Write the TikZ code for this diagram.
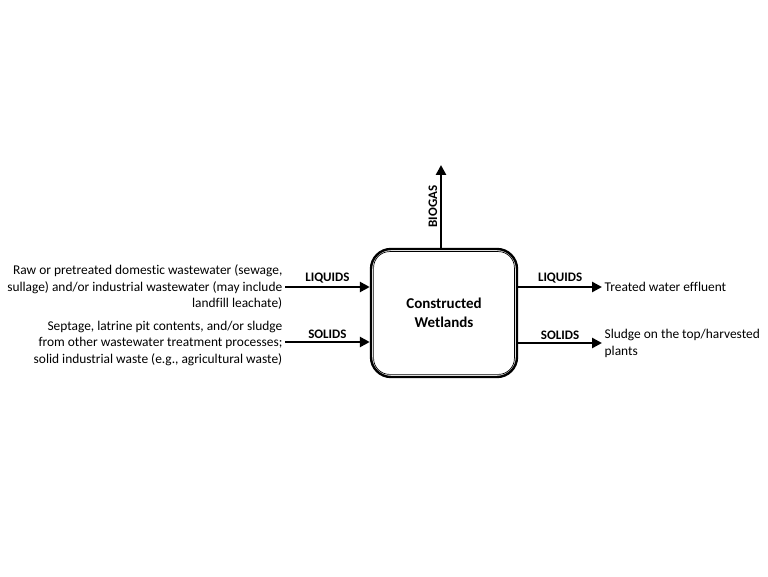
\documentclass[tikz,border=0pt]{standalone}
\usepackage{fontspec}
\setmainfont{Carlito}[Ligatures=CommonOff]
\usetikzlibrary{arrows.meta,positioning}
\tikzset{
  flow/.style={line width=2.6pt, -{Triangle[length=10pt,width=10pt]}},
  flowlabel/.style={font=\bfseries\fontsize{13}{14}\selectfont, inner sep=2.5pt},
  stream/.style={font=\fontsize{13.4}{16.5}\selectfont, inner sep=2.5pt},
}
\begin{document}
\begin{tikzpicture}[x=1pt, y=1pt]
\useasboundingbox (0,0) rectangle (768,576);
% Process box
\node[draw, line width=2.4pt, rounded corners=20pt,
  minimum width=146pt, minimum height=128pt, align=center,
  font=\bfseries\fontsize{15}{19}\selectfont] (cw) at (444,263) {Constructed\\Wetlands};
\draw[line width=0.7pt, rounded corners=16pt]
  ([shift={(3.8,3.8)}]cw.south west) rectangle ([shift={(-3.8,-3.8)}]cw.north east);
% Inputs
\node[stream, anchor=east, align=right] (inliq) at (285,288.5)
  {Raw or pretreated domestic wastewater (sewage,\\sullage) and/or industrial wastewater (may include\\landfill leachate)};
\node[stream, anchor=east, align=right] (insol) at (285,233)
  {Septage, latrine pit contents, and/or sludge\\from other wastewater treatment processes;\\solid industrial waste (e.g., agricultural waste)};
% Outputs
\node[stream, anchor=west] (outliq) at (602,289) {Treated water effluent};
\node[stream, anchor=west, align=left] (outsol) at (602,232.5)
  {Sludge on the top/harvested\\plants};
\coordinate (gas) at (441,411);
% Arrows
\draw[flow] (inliq.east |- 0,289) -- (cw.west |- 0,289) node[flowlabel, midway, above] {LIQUIDS};
\draw[flow] (insol.east |- 0,234) -- (cw.west |- 0,234) node[flowlabel, midway, above] {SOLIDS};
\draw[flow] (cw.east |- 0,289) -- (outliq.west |- 0,289) node[flowlabel, midway, above] {LIQUIDS};
\draw[flow] (cw.east |- 0,233) -- (outsol.west |- 0,233) node[flowlabel, midway, above] {SOLIDS};
\draw[flow] (gas |- cw.north) -- (gas) node[flowlabel, midway, sloped, above] {BIOGAS};
\end{tikzpicture}
\end{document}
